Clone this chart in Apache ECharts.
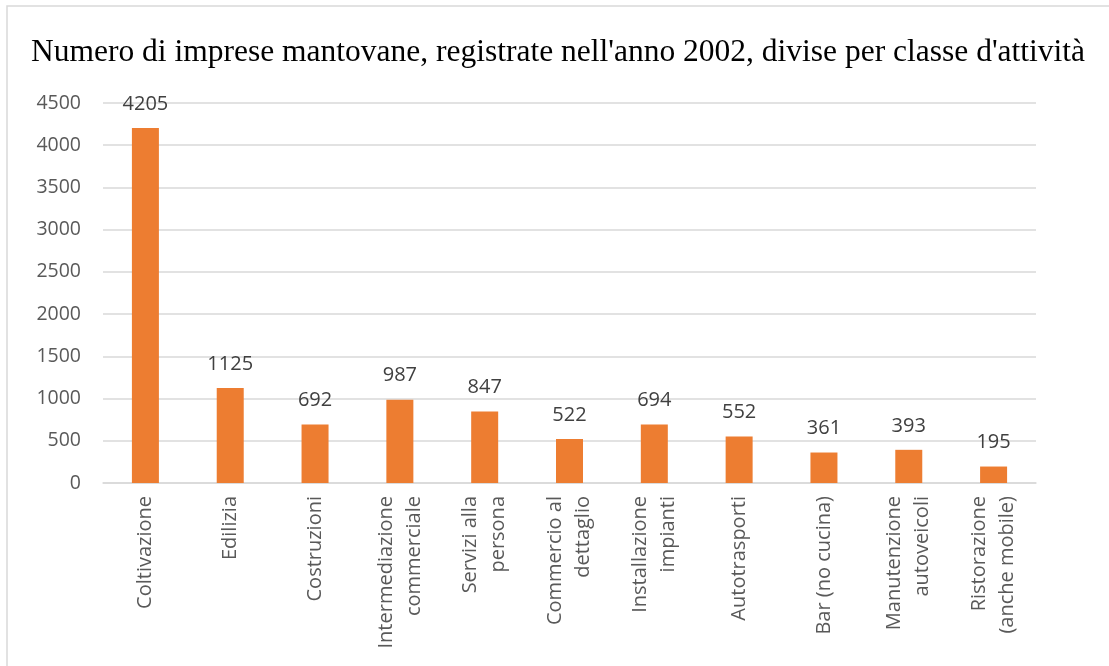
<!DOCTYPE html>
<html>
<head>
<meta charset="utf-8">
<script src="https://cdn.jsdelivr.net/npm/echarts@6/dist/echarts.min.js"></script>
<style>
  html, body { margin: 0; padding: 0; background: #fff; }
  #chart { width: 1109px; height: 666px; }
</style>
</head>
<body>
<div id="chart"></div>
<script>
const titleText = "Numero di imprese mantovane, registrate nell'anno 2002, divise per classe d'attività"
const categories = [
  'Coltivazione',
  'Edilizia',
  'Costruzioni',
  'Intermediazione\ncommerciale',
  'Servizi alla\npersona',
  'Commercio al\ndettaglio',
  'Installazione\nimpianti',
  'Autotrasporti',
  'Bar (no cucina)',
  'Manutenzione\nautoveicoli',
  'Ristorazione\n(anche mobile)'
]
const counts = [4205, 1125, 692, 987, 847, 522, 694, 552, 361, 393, 195]

const chart = echarts.init(document.getElementById('chart'))

chart.setOption({
  animation: false,
  // cornice grigia del grafico
  graphic: [{
    type: 'rect',
    shape: { x: 7, y: 6, width: 1200, height: 700 },
    style: { fill: 'none', stroke: '#d9d9d9', lineWidth: 1.5 },
    silent: true
  }],
  title: {
    text: titleText,
    left: 26,
    top: 32,
    textStyle: {
      fontFamily: 'Liberation Serif',
      fontWeight: 'normal',
      fontSize: 31.5,
      color: '#000'
    }
  },
  grid: {
    left: 103,
    right: 73,
    top: 103,
    bottom: 183,
    containLabel: false
  },
  xAxis: {
    type: 'category',
    data: categories,
    axisTick: { show: false },
    axisLine: { lineStyle: { color: '#d9d9d9', width: 1.5 } },
    axisLabel: {
      rotate: 90,
      interval: 0,
      margin: 13,
      color: '#595959',
      fontFamily: 'Open Sans',
      fontSize: 20,
      lineHeight: 28
    }
  },
  yAxis: {
    type: 'value',
    min: 0,
    max: 4500,
    interval: 500,
    axisLine: { show: false },
    axisTick: { show: false },
    axisLabel: {
      color: '#595959',
      fontFamily: 'Open Sans',
      fontSize: 19.5,
      margin: 22,
      formatter: (v) => String(v)
    },
    splitLine: { lineStyle: { color: '#d9d9d9', width: 1.5 } }
  },
  series: [{
    type: 'bar',
    data: counts,
    barWidth: 27,
    itemStyle: { color: '#ED7D31' },
    label: {
      show: true,
      position: 'top',
      distance: 14,
      color: '#404040',
      fontFamily: 'Open Sans',
      fontSize: 20
    }
  }]
})
</script>
</body>
</html>
